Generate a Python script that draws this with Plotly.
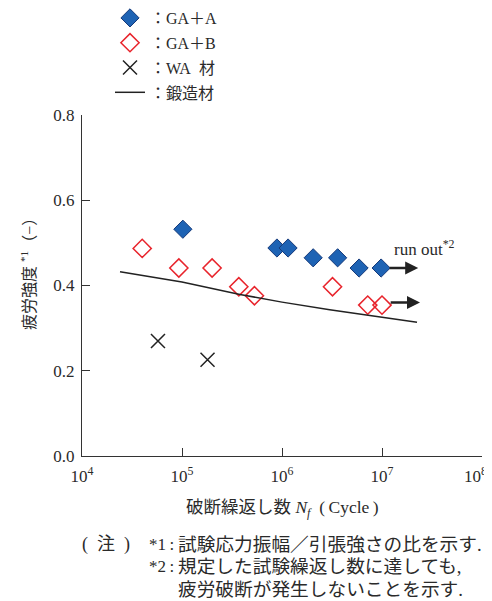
import plotly.graph_objects as go
import math

# GA+A (filled blue diamonds)
ga_a_n = [1.02e5, 8.9e5, 1.15e6, 2.05e6, 3.6e6, 5.9e6, 9.8e6]
ga_a_s = [0.532, 0.488, 0.488, 0.465, 0.465, 0.441, 0.441]
# GA+B (open red diamonds)
ga_b_n = [4.0e4, 9.3e4, 2.0e5, 3.7e5, 5.3e5, 3.2e6, 7.2e6, 1.0e7]
ga_b_s = [0.487, 0.441, 0.441, 0.397, 0.376, 0.397, 0.354, 0.354]
# WA 材 (crosses)
wa_n = [5.75e4, 1.8e5]
wa_s = [0.270, 0.226]
# 鍛造材 (line)
forged_n = [2.4e4, 1.0e5, 3.8e5, 1.0e6, 3.0e6, 2.24e7]
forged_s = [0.432, 0.408, 0.379, 0.361, 0.343, 0.314]

x_tickvals = [1e4, 1e5, 1e6, 1e7, 1e8]
x_ticktext = ["10<sup>4</sup>", "10<sup>5</sup>", "10<sup>6</sup>", "10<sup>7</sup>", "10<sup>8</sup>"]
y_tickvals = [0.0, 0.2, 0.4, 0.6, 0.8]

# run-out arrows
runout_from = [1.15e7, 1.18e7]
runout_to = [2.3e7, 2.4e7]
runout_level = [0.441, 0.360]

FONT = "Liberation Serif, Noto Sans CJK JP, serif"
TXT = "#2a2a2a"

# page has an 8px body margin; figure sized so plot area lands where the reference has it
W, H = 484, 593
ML, MR, MT, MB = 74, 10, 107, 145
PW, PH = W - ML - MR, H - MT - MB


def px_to_paper(wx, wy):
    """window pixel -> paper coords"""
    fx, fy = wx - 8, wy - 8
    return (fx - ML) / PW, (MT + PH - fy) / PH


fig = go.Figure()
fig.add_trace(go.Scatter(x=ga_a_n, y=ga_a_s, mode="markers", name="：GA＋A", legendgroup="a",
                         marker=dict(symbol="diamond", size=14, color="#1e63b4",
                                     line=dict(color="#14397a", width=1))))
fig.add_trace(go.Scatter(x=ga_b_n, y=ga_b_s, mode="markers", name="：GA＋B", legendgroup="b",
                         marker=dict(symbol="diamond-open", size=14, color="#e8242c",
                                     line=dict(color="#e8242c", width=1.5))))
fig.add_trace(go.Scatter(x=wa_n, y=wa_s, mode="markers", name="：WA\u2002材", legendgroup="c",
                         marker=dict(symbol="x-thin-open", size=14, color="#222",
                                     line=dict(color="#222", width=1.5))))
fig.add_trace(go.Scatter(x=forged_n, y=forged_s, mode="lines", name="：鍛造材", legendgroup="d",
                         line=dict(color="#222", width=1.5)))

for x0, x1, yv in zip(runout_from, runout_to, runout_level):
    fig.add_annotation(x=math.log10(x1), y=yv, ax=math.log10(x0), ay=yv,
                       xref="x", yref="y", axref="x", ayref="y",
                       text="", showarrow=True, arrowhead=2, arrowsize=1.0,
                       arrowwidth=2.6, arrowcolor="#222")

fig.add_annotation(x=math.log10(1.25e7), y=0.489, xref="x", yref="y",
                   text="run out<sup>*2</sup>", showarrow=False, xanchor="left",
                   font=dict(family=FONT, size=17, color=TXT))

# last x tick label drawn inside the page edge (it would be clipped otherwise)
tx, ty = px_to_paper(489, 475)
fig.add_annotation(x=tx, y=ty, xref="paper", yref="paper", showarrow=False,
                   text=x_ticktext[-1], xanchor="right", yanchor="middle",
                   font=dict(family=FONT, size=17, color=TXT))
x_ticktext_axis = x_ticktext[:-1] + [""]

# axis titles
tx, ty = px_to_paper(282, 508)
fig.add_annotation(x=tx, y=ty, xref="paper", yref="paper", showarrow=False,
                   text="破断繰返し数 <i>N<sub>f</sub></i>\u2002(\u2009Cycle\u2009)",
                   xanchor="center", yanchor="middle",
                   font=dict(family=FONT, size=17.5, color=TXT))
tx, ty = px_to_paper(28, 270)
fig.add_annotation(x=tx, y=ty, xref="paper", yref="paper", showarrow=False,
                   text="疲労強度 <sup>*1</sup>（−）", textangle=-90,
                   xanchor="center", yanchor="middle",
                   font=dict(family=FONT, size=16, color=TXT))

# notes
notes = [
    ("(\u2002注\u2002)", 80, 544, 18),
    ("*1\u2009:", 147, 544, 17),
    ("試験応力振幅／引張強さの比を示す.", 176, 544, 18.7),
    ("*2\u2009:", 147, 566, 17),
    ("規定した試験繰返し数に達しても,", 176, 566, 18.7),
    ("疲労破断が発生しないことを示す.", 176, 589, 18.7),
]
for t, wx, wy, fs in notes:
    nx, ny = px_to_paper(wx, wy)
    fig.add_annotation(x=nx, y=ny, xref="paper", yref="paper",
                       text=t, showarrow=False, xanchor="left", yanchor="middle",
                       font=dict(family=FONT, size=fs, color=TXT))

lx, ly = px_to_paper(110, 1)
fig.update_layout(
    width=W, height=H,
    margin=dict(l=ML, r=MR, t=MT, b=MB, autoexpand=False),
    paper_bgcolor="white", plot_bgcolor="white",
    font=dict(family=FONT, size=16, color=TXT),
    showlegend=True,
    legend=dict(x=lx, y=ly, xanchor="left", yanchor="top",
                bgcolor="rgba(0,0,0,0)", font=dict(family=FONT, size=16, color=TXT),
                itemsizing="trace", tracegroupgap=1),
    xaxis=dict(type="log", range=[4, 8], tickvals=x_tickvals, ticktext=x_ticktext_axis,
               ticks="inside", ticklen=8, tickcolor="#333", showline=True,
               linecolor="#333", linewidth=1, showgrid=False, zeroline=False,
               ticklabelstandoff=5,
               tickfont=dict(family=FONT, size=17, color=TXT)),
    yaxis=dict(range=[0, 0.8], tickvals=y_tickvals, tickformat=".1f",
               ticks="inside", ticklen=8, tickcolor="#333", showline=True,
               linecolor="#333", linewidth=1, showgrid=False, zeroline=False,
               ticklabelstandoff=3,
               tickfont=dict(family=FONT, size=17, color=TXT)),
)

fig.write_html("out.html")
